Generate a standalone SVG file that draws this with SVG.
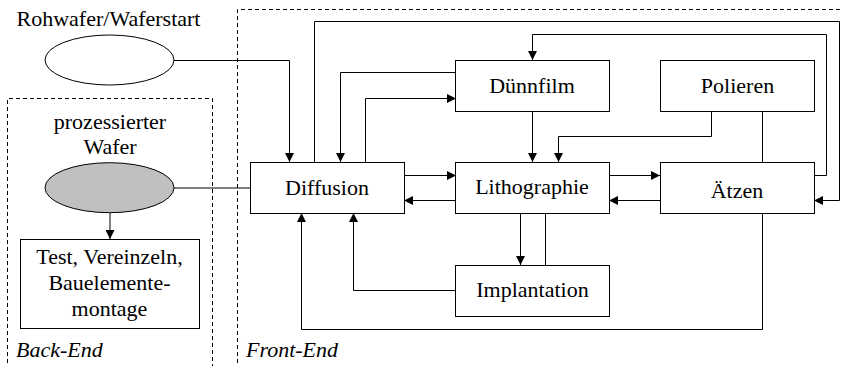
<svg xmlns="http://www.w3.org/2000/svg" width="841" height="366" viewBox="0 0 841 366" font-family="Liberation Serif, Times New Roman, serif" font-size="22">
<defs>
<marker id="ah" viewBox="0 0 10 10" refX="10" refY="5" markerWidth="10" markerHeight="9" markerUnits="userSpaceOnUse" orient="auto">
<path d="M0,0 L10,5 L0,10 z" fill="#000"/>
</marker>
</defs>
<style>
.box{fill:#fff;stroke:#000;stroke-width:1}
.t{text-anchor:middle;fill:#000}
.it{font-style:italic;fill:#000}
.c{fill:none;stroke:#000;stroke-width:1}
.a{marker-end:url(#ah)}
.dash{fill:none;stroke:#000;stroke-width:1;stroke-dasharray:4,3}
</style>
<rect width="841" height="366" fill="#fff"/>
<g id="regions">
<path class="dash" d="M7.5,370 V98.5 H212.5 V370"/>
<path class="dash" d="M237.5,370 V9.5 H845"/>
<text class="it" x="16" y="357">Back-End</text>
<text class="it" x="246" y="357">Front-End</text>
</g>
<g id="connectors">
<path class="c a" d="M174,60.5 H289.5 V162"/>
<path class="c" d="M174,188 H251"/>
<path class="c a" d="M110,213 V239"/>
<path class="c a" d="M314.5,162 V21.5 H839.5 V200.5 H814"/>
<path class="c a" d="M814,175.5 H826.5 V34.5 H532.5 V60"/>
<path class="c a" d="M456,72.5 H340.5 V162"/>
<path class="c a" d="M365.5,162 V98.5 H456"/>
<path class="c a" d="M404,175.5 H456"/>
<path class="c a" d="M456,200.5 H404"/>
<path class="c a" d="M532.5,111 V162"/>
<path class="c a" d="M711.5,111 V136.5 H558.5 V162"/>
<path class="c" d="M762.5,111 V162"/>
<path class="c a" d="M609,175.5 H660"/>
<path class="c a" d="M660,200.5 H609"/>
<path class="c a" d="M520.5,213 V265"/>
<path class="c" d="M545.5,213 V265"/>
<path class="c a" d="M456,290.5 H353.5 V213"/>
<path class="c a" d="M762.5,213 V329.5 H301.5 V213"/>
</g>
<g id="rohwafer">
<ellipse cx="109.5" cy="60" rx="64.5" ry="25" fill="#fff" stroke="#000"/>
<text class="t" x="108.5" y="26">Rohwafer/Waferstart</text>
</g>
<g id="wafer">
<ellipse cx="109.5" cy="187.7" rx="64.5" ry="25" fill="#c0c0c0" stroke="#000"/>
<text class="t" x="110" y="128.5">prozessierter</text>
<text class="t" x="110" y="154">Wafer</text>
</g>
<g id="test">
<rect class="box" x="20.5" y="239.5" width="179" height="89"/>
<text class="t" x="109.5" y="264">Test, Vereinzeln,</text>
<text class="t" x="109.5" y="290">Bauelemente-</text>
<text class="t" x="109.5" y="316">montage</text>
</g>
<g id="diffusion">
<rect class="box" x="250.5" y="162.5" width="154" height="51"/>
<text class="t" x="327" y="195">Diffusion</text>
</g>
<g id="duennfilm">
<rect class="box" x="455.5" y="60.5" width="154" height="51"/>
<text class="t" x="532" y="93">Dünnfilm</text>
</g>
<g id="polieren">
<rect class="box" x="660.5" y="60.5" width="154" height="51"/>
<text class="t" x="737.5" y="93">Polieren</text>
</g>
<g id="lithographie">
<rect class="box" x="455.5" y="162.5" width="154" height="51"/>
<text class="t" x="532" y="193.5">Lithographie</text>
</g>
<g id="aetzen">
<rect class="box" x="660.5" y="162.5" width="154" height="51"/>
<text class="t" x="737" y="198">Ätzen</text>
</g>
<g id="implantation">
<rect class="box" x="455.5" y="265.5" width="154" height="51"/>
<text class="t" x="532.5" y="297">Implantation</text>
</g>
</svg>
